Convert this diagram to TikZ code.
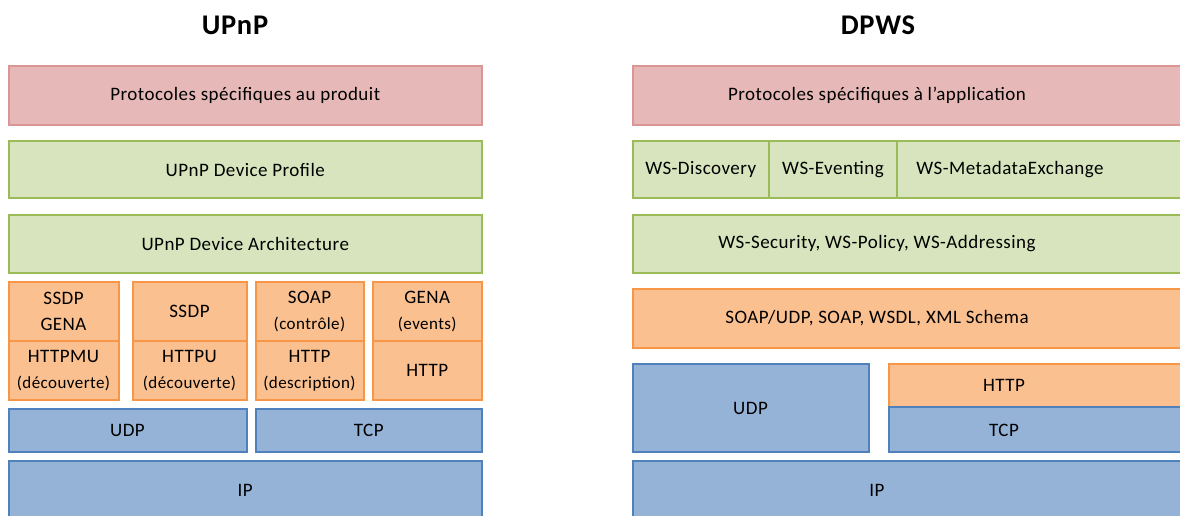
\documentclass[tikz,border=0pt]{standalone}
\usepackage{fontspec}
\setmainfont[LetterSpace=2.5]{Carlito}
\definecolor{pinkfill}{HTML}{E6B9B8}
\definecolor{pinkline}{HTML}{D99694}
\definecolor{greenfill}{HTML}{D7E4BD}
\definecolor{greenline}{HTML}{9BBB59}
\definecolor{orangefill}{HTML}{FAC090}
\definecolor{orangeline}{HTML}{F79646}
\definecolor{bluefill}{HTML}{95B3D7}
\definecolor{blueline}{HTML}{4F81BD}
\newcommand\subtxt[1]{{\fontsize{17}{20}\selectfont #1}}
\begin{document}
\begin{tikzpicture}[x=1pt,y=-1pt,
  layer/.style={line width=2pt},
  app/.style={layer,draw=pinkline,fill=pinkfill},
  ws/.style={layer,draw=greenline,fill=greenfill},
  msg/.style={layer,draw=orangeline,fill=orangefill},
  net/.style={layer,draw=blueline,fill=bluefill},
  every node/.style={font=\fontsize{19}{26}\selectfont,align=center,inner sep=0pt},
  title/.style={font=\fontsize{28.5}{30}\selectfont\bfseries}]
\useasboundingbox (0,0) rectangle (1180,515);
\clip (0,0) rectangle (1180,515);

% UPnP stack
\node[title] (tupnp) at (235,25) {UPnP};
\draw[app] (8.5,66) rectangle node (uapp) {Protocoles spécifiques au produit} (482,125);
\draw[ws] (8.5,141) rectangle node (uprof) {UPnP Device Profile} (482,198);
\draw[ws] (8.5,215) rectangle node (uarch) {UPnP Device Architecture} (482,273);
\foreach \xa/\xb/\ttop/\tbot [count=\i] in
  {8.5/118.5/{SSDP\\GENA}/{HTTPMU\\\subtxt{(découverte)}},
   132.5/246.5/{SSDP}/{HTTPU\\\subtxt{(découverte)}},
   255.5/363.5/{SOAP\\\subtxt{(contrôle)}}/{HTTP\\\subtxt{(description)}},
   372.5/482/{GENA\\\subtxt{(events)}}/{HTTP}}
{
  \draw[msg] (\xa,282) rectangle node (uhi\i) {\ttop} (\xb,341);
  \draw[msg] (\xa,341) rectangle node (ulo\i) {\tbot} (\xb,400);
}
\draw[net] (8.5,409) rectangle node (uudp) {UDP} (246.5,452);
\draw[net] (255.5,409) rectangle node (utcp) {TCP} (482,452);
\draw[net] (8.5,461) rectangle node (uip) {IP} (482,520);

% DPWS stack
\node[title] (tdpws) at (878,25) {DPWS};
\draw[app] (632.5,66) rectangle (1200,125);
\node (dapp) at (877,95.5) {Protocoles spécifiques à l’application};
\draw[ws] (632.5,141) rectangle node (ddisc) {WS-Discovery} (769,198);
\draw[ws] (769,141) rectangle node (devt) {WS-Eventing} (897,198);
\draw[ws] (897,141) rectangle (1200,198);
\node (dmex) at (1010,169.5) {WS-MetadataExchange};
\draw[ws] (632.5,215) rectangle (1200,273);
\node (dsec) at (877,244) {WS-Security, WS-Policy, WS-Addressing};
\draw[msg] (632.5,289) rectangle (1200,348);
\node (dsoap) at (877,318.5) {SOAP/UDP, SOAP, WSDL, XML Schema};
\draw[net] (632.5,364) rectangle node (dudp) {UDP} (868.5,452);
\draw[msg] (888.5,364) rectangle (1200,407);
\node (dhttp) at (1004,385.5) {HTTP};
\draw[net] (888.5,407) rectangle (1200,452);
\node (dtcp) at (1004,430) {TCP};
\draw[net] (632.5,461) rectangle (1200,520);
\node (dip) at (877,490.5) {IP};
\end{tikzpicture}
\end{document}
